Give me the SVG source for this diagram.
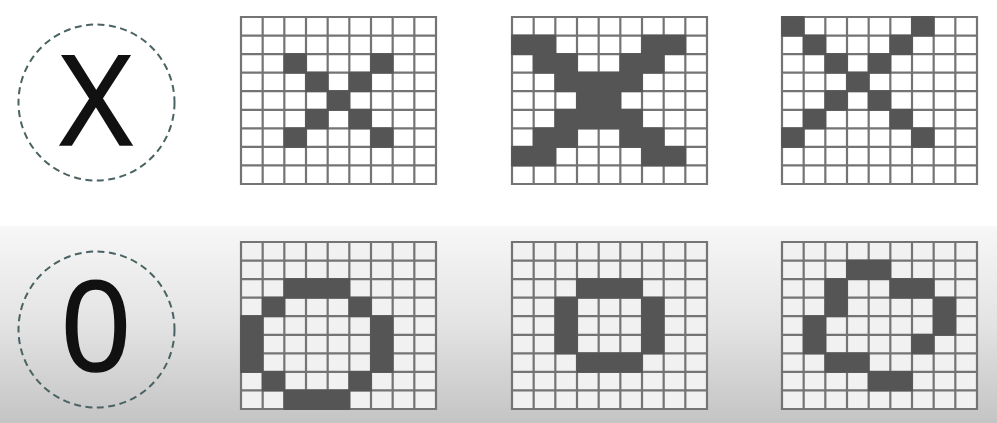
<svg xmlns="http://www.w3.org/2000/svg" width="997" height="423" viewBox="0 0 997 423">
<style>
.ring{fill:none;stroke:#4a6262;stroke-width:2;stroke-dasharray:7 4.5}
.glyph{font-family:"Open Sans","Noto Sans","Liberation Sans",sans-serif;font-size:125px;fill:#111;stroke:#111;stroke-width:1.6;text-anchor:middle}
.lines{fill:none;stroke:#747474;stroke-width:2.2}
.on{fill:#555555}
.bgtop{fill:#ffffff}
.bgbot{fill:#f1f1f1}
</style>
<defs>
<linearGradient id="band" x1="0" y1="0" x2="0" y2="1">
<stop offset="0" stop-color="#f7f7f7"/>
<stop offset="0.5" stop-color="#e3e3e3"/>
<stop offset="1" stop-color="#c4c4c4"/>
</linearGradient>
<path id="gl" class="lines" d="M0 0H195V167H0Z M21.67 0V167 M43.33 0V167 M65 0V167 M86.67 0V167 M108.33 0V167 M130 0V167 M151.67 0V167 M173.33 0V167 M0 18.56H195 M0 37.11H195 M0 55.67H195 M0 74.22H195 M0 92.78H195 M0 111.33H195 M0 129.89H195 M0 148.44H195"/>
</defs>
<rect x="0" y="0" width="997" height="423" fill="#ffffff"/>
<rect x="0" y="226" width="997" height="197" fill="url(#band)"/>

<g id="label-x">
<circle class="ring" cx="96.5" cy="102.5" r="78"/>
<text class="glyph" x="96" y="144.5">X</text>
</g>
<g id="label-o">
<circle class="ring" cx="96.5" cy="329.5" r="78"/>
<text class="glyph" x="96" y="370.5">0</text>
</g>

<g id="grid-x1" transform="translate(241,17)">
<rect class="bgtop" width="195" height="167"/>
<use href="#gl"/>
<g transform="scale(21.667,18.556)" class="on">
<rect x="1.96" y="1.95" width="1.08" height="1.1"/>
<rect x="5.96" y="1.95" width="1.08" height="1.1"/>
<rect x="2.96" y="2.95" width="1.08" height="1.1"/>
<rect x="4.96" y="2.95" width="1.08" height="1.1"/>
<rect x="3.96" y="3.95" width="1.08" height="1.1"/>
<rect x="2.96" y="4.95" width="1.08" height="1.1"/>
<rect x="4.96" y="4.95" width="1.08" height="1.1"/>
<rect x="1.96" y="5.95" width="1.08" height="1.1"/>
<rect x="5.96" y="5.95" width="1.08" height="1.1"/>
</g>
</g>

<g id="grid-x2" transform="translate(512,17)">
<rect class="bgtop" width="195" height="167"/>
<use href="#gl"/>
<g transform="scale(21.667,18.556)" class="on">
<rect x="-0.04" y="0.95" width="2.08" height="1.1"/>
<rect x="5.96" y="0.95" width="2.08" height="1.1"/>
<rect x="0.96" y="1.95" width="2.08" height="1.1"/>
<rect x="4.96" y="1.95" width="2.08" height="1.1"/>
<rect x="1.96" y="2.95" width="4.08" height="1.1"/>
<rect x="2.96" y="3.95" width="2.08" height="1.1"/>
<rect x="1.96" y="4.95" width="4.08" height="1.1"/>
<rect x="0.96" y="5.95" width="2.08" height="1.1"/>
<rect x="4.96" y="5.95" width="2.08" height="1.1"/>
<rect x="-0.04" y="6.95" width="2.08" height="1.1"/>
<rect x="5.96" y="6.95" width="2.08" height="1.1"/>
</g>
</g>

<g id="grid-x3" transform="translate(782,17)">
<rect class="bgtop" width="195" height="167"/>
<use href="#gl"/>
<g transform="scale(21.667,18.556)" class="on">
<rect x="-0.04" y="-0.05" width="1.08" height="1.1"/>
<rect x="5.96" y="-0.05" width="1.08" height="1.1"/>
<rect x="0.96" y="0.95" width="1.08" height="1.1"/>
<rect x="4.96" y="0.95" width="1.08" height="1.1"/>
<rect x="1.96" y="1.95" width="1.08" height="1.1"/>
<rect x="3.96" y="1.95" width="1.08" height="1.1"/>
<rect x="2.96" y="2.95" width="1.08" height="1.1"/>
<rect x="1.96" y="3.95" width="1.08" height="1.1"/>
<rect x="3.96" y="3.95" width="1.08" height="1.1"/>
<rect x="0.96" y="4.95" width="1.08" height="1.1"/>
<rect x="4.96" y="4.95" width="1.08" height="1.1"/>
<rect x="-0.04" y="5.95" width="1.08" height="1.1"/>
<rect x="5.96" y="5.95" width="1.08" height="1.1"/>
</g>
</g>

<g id="grid-o1" transform="translate(241,242)">
<rect class="bgbot" width="195" height="167"/>
<use href="#gl"/>
<g transform="scale(21.667,18.556)" class="on">
<rect x="1.96" y="1.95" width="3.08" height="1.1"/>
<rect x="0.96" y="2.95" width="1.08" height="1.1"/>
<rect x="4.96" y="2.95" width="1.08" height="1.1"/>
<rect x="-0.04" y="3.95" width="1.08" height="3.1"/>
<rect x="5.96" y="3.95" width="1.08" height="3.1"/>
<rect x="0.96" y="6.95" width="1.08" height="1.1"/>
<rect x="4.96" y="6.95" width="1.08" height="1.1"/>
<rect x="1.96" y="7.95" width="3.08" height="1.1"/>
</g>
</g>

<g id="grid-o2" transform="translate(512,242)">
<rect class="bgbot" width="195" height="167"/>
<use href="#gl"/>
<g transform="scale(21.667,18.556)" class="on">
<rect x="2.96" y="1.95" width="3.08" height="1.1"/>
<rect x="1.96" y="2.95" width="1.08" height="3.1"/>
<rect x="5.96" y="2.95" width="1.08" height="3.1"/>
<rect x="2.96" y="5.95" width="3.08" height="1.1"/>
</g>
</g>

<g id="grid-o3" transform="translate(782,242)">
<rect class="bgbot" width="195" height="167"/>
<use href="#gl"/>
<g transform="scale(21.667,18.556)" class="on">
<rect x="2.96" y="0.95" width="2.08" height="1.1"/>
<rect x="1.96" y="1.95" width="1.08" height="2.1"/>
<rect x="4.96" y="1.95" width="2.08" height="1.1"/>
<rect x="6.96" y="2.95" width="1.08" height="2.1"/>
<rect x="0.96" y="3.95" width="1.08" height="2.1"/>
<rect x="5.96" y="4.95" width="1.08" height="1.1"/>
<rect x="1.96" y="5.95" width="2.08" height="1.1"/>
<rect x="3.96" y="6.95" width="2.08" height="1.1"/>
</g>
</g>
</svg>
